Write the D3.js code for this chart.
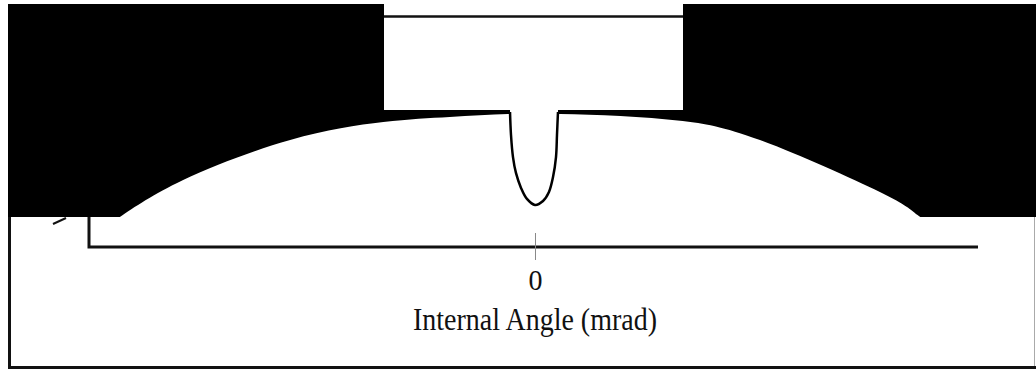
<!DOCTYPE html>
<html>
<head>
<meta charset="utf-8">
<script src="https://cdn.jsdelivr.net/npm/d3@7"></script>
<style>
  body { margin: 0; background: #fff; }
  svg { display: block; }
  text { font-family: "Liberation Serif", "Times New Roman", serif; fill: #111; }
</style>
</head>
<body>
<svg id="chart"></svg>
<script>
// broad profile (mrad, relative intensity)
const domeX = [-4.50, -4.19, -3.55, -2.47, -1.53, -0.86, -0.27, 0.25, 0.86, 1.49, 2.27, 3.48, 3.86, 4.24];
const domeY = [0.043, 0.130, 0.291, 0.465, 0.543, 0.565, 0.578, 0.578, 0.570, 0.548, 0.465, 0.239, 0.139, 0.035];

// narrow dip at zero angle
const dipX = [-0.252, -0.242, -0.222, -0.192, -0.141, -0.081, 0, 0.081, 0.141, 0.182, 0.212, 0.222, 0.232];
const dipY = [0.587, 0.487, 0.391, 0.322, 0.257, 0.209, 0.183, 0.200, 0.239, 0.304, 0.391, 0.487, 0.587];

const xTicks = [0];
const xLabel = "Internal Angle (mrad)";

const width = 1036, height = 369;
const axisY = 247;          // y of the x axis
const shadeBottom = 217;    // bottom of the dark band
const box = { x0: 384, x1: 683, y1: 110, lineY: 16.5 };

const svg = d3.select('#chart')
  .attr('width', width)
  .attr('height', height);

const x = d3.scaleLinear()
  .domain([-4.5, 4.47])
  .range([89, 978]);

const y = d3.scaleLinear()
  .domain([0, 1])
  .range([axisY, 17]);

svg.append('clipPath')
  .attr('id', 'band')
  .append('rect')
  .attr('x', 0).attr('y', 0)
  .attr('width', width).attr('height', shadeBottom);

// dark band above the profile
svg.append('rect')
  .attr('x', 8).attr('y', 4)
  .attr('width', width - 8).attr('height', shadeBottom - 4)
  .attr('fill', '#000');

// white area under the profile
const area = d3.area()
  .x((d, i) => x(domeX[i]))
  .y0(axisY + 20)
  .y1(d => y(d))
  .curve(d3.curveNatural);

svg.append('path')
  .datum(domeY)
  .attr('d', area)
  .attr('clip-path', 'url(#band)')
  .attr('fill', '#fff');

// white inset box at the top
svg.append('rect')
  .attr('x', box.x0).attr('y', 0)
  .attr('width', box.x1 - box.x0).attr('height', box.y1)
  .attr('fill', '#fff');

svg.append('line')
  .attr('x1', box.x0).attr('x2', box.x1)
  .attr('y1', box.lineY).attr('y2', box.lineY)
  .attr('stroke', '#111').attr('stroke-width', 2.5);

// gap in the band where the dip opens
svg.append('rect')
  .attr('x', x(d3.min(dipX))).attr('y', box.y1 - 1)
  .attr('width', x(d3.max(dipX)) - x(d3.min(dipX))).attr('height', 20)
  .attr('fill', '#fff');

// dip line
const line = d3.line()
  .x((d, i) => x(dipX[i]))
  .y(d => y(d))
  .curve(d3.curveCatmullRom);

svg.append('path')
  .datum(dipY)
  .attr('d', line)
  .attr('fill', 'none')
  .attr('stroke', '#000')
  .attr('stroke-width', 2.5);

// axes
svg.append('path')
  .attr('d', `M${x.range()[0]},${shadeBottom}V${axisY}H${x.range()[1]}`)
  .attr('fill', 'none')
  .attr('stroke', '#111')
  .attr('stroke-width', 3);

const xAxis = svg.append('g')
  .attr('transform', `translate(0, ${axisY - 14})`)
  .call(d3.axisBottom(x).tickValues(xTicks).tickSize(27).tickFormat(d3.format('d')));

xAxis.select('.domain').remove();
xAxis.selectAll('.tick line').attr('stroke', '#888').attr('stroke-width', 1);
xAxis.selectAll('.tick text')
  .attr('y', 0).attr('dy', 0)
  .attr('transform', `translate(0, ${290 - (axisY - 14)}) scale(1, 1.08)`)
  .style('font-size', '28px')
  .style('font-family', '"Liberation Serif", serif')
  .attr('fill', '#111');

svg.append('text')
  .attr('transform', `translate(${x(0)}, 330) scale(1, 1.15)`)
  .attr('text-anchor', 'middle')
  .style('font-size', '28px')
  .text(xLabel);

// small stray mark left of the axis
svg.append('line')
  .attr('x1', 53).attr('y1', 224).attr('x2', 66).attr('y2', 218)
  .attr('stroke', '#111').attr('stroke-width', 2);

// frame
svg.append('path')
  .attr('d', `M9.5,${shadeBottom}V${height - 1.5}H${width}`)
  .attr('fill', 'none')
  .attr('stroke', '#111')
  .attr('stroke-width', 3);

svg.append('line')
  .attr('x1', width - 1.5).attr('x2', width - 1.5)
  .attr('y1', shadeBottom).attr('y2', height - 3)
  .attr('stroke', '#aaa').attr('stroke-width', 1);
</script>
</body>
</html>
